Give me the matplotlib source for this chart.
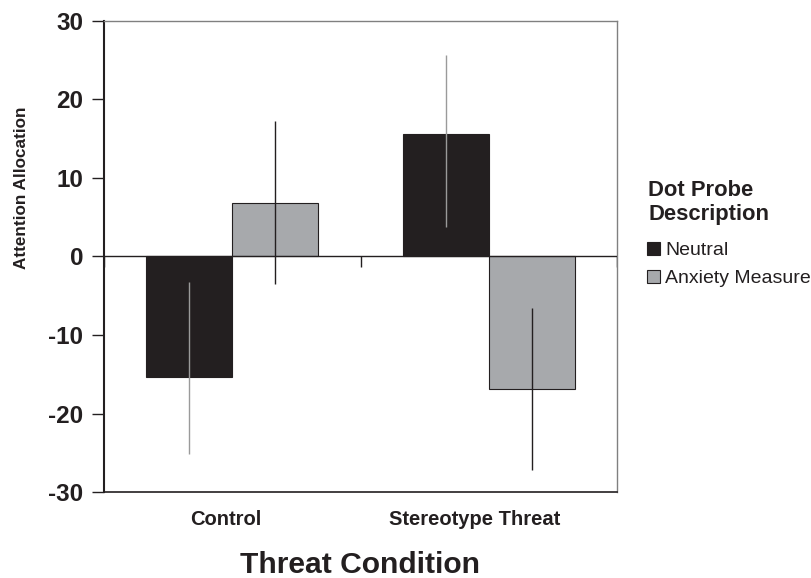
import matplotlib
matplotlib.use("Agg")
import matplotlib.pyplot as plt
import matplotlib.transforms as mtransforms
import numpy as np
from matplotlib.patches import Patch

categories = ["Control", "Stereotype Threat"]
series_names = ["Neutral", "Anxiety Measure"]
neutral_vals = [-15.3, 15.6]
anxiety_vals = [6.8, -16.8]
neutral_err_low = [-25.1, 3.8]
neutral_err_high = [-3.3, 25.6]
anxiety_err_low = [-3.5, -27.2]
anxiety_err_high = [17.2, -6.5]
yticks = [-30, -20, -10, 0, 10, 20, 30]

plt.rcParams['font.family'] = ['Liberation Sans', 'DejaVu Sans']

fig = plt.figure(figsize=(8.11, 5.78), dpi=100)
ax = fig.add_axes([0.1282, 0.1483, 0.6330, 0.8159])

x = np.arange(len(categories))
w = 0.335
dark = '#231f20'
gray = '#a7a9ac'

ax.bar(x - w/2, neutral_vals, w, color=dark, edgecolor=dark, linewidth=0.8, zorder=2)
ax.bar(x + w/2, anxiety_vals, w, color=gray, edgecolor=dark, linewidth=0.8, zorder=2)

nv = np.array(neutral_vals)
av = np.array(anxiety_vals)
ax.errorbar(x - w/2, nv, yerr=[nv - np.array(neutral_err_low), np.array(neutral_err_high) - nv],
            fmt='none', ecolor='#9a9a9a', elinewidth=1.0, capsize=0, zorder=3)
ax.errorbar(x + w/2, av, yerr=[av - np.array(anxiety_err_low), np.array(anxiety_err_high) - av],
            fmt='none', ecolor=dark, elinewidth=1.0, capsize=0, zorder=3)

ax.axhline(0, color=dark, linewidth=1.0, zorder=4)
bounds = np.arange(len(categories) + 1) - 0.5
ax.vlines(bounds, -1.4, 0, color=dark, linewidth=1.0, zorder=4)

ax.set_xlim(-0.5, len(categories) - 0.5)
ax.set_ylim(-30, 30)
ax.set_yticks(yticks)
ax.set_yticklabels([str(t) for t in yticks], fontsize=17.5, fontweight='bold', color=dark)
ax.set_xticks(x)
ax.set_xticklabels(categories, fontsize=14.5, fontweight='bold', color=dark)
ax.tick_params(axis='x', length=0, pad=13)
ax.tick_params(axis='y', direction='out', length=9, width=1.0, color=dark, pad=6)

# Shift category labels slightly left as in the reference
label_shifts = [-7, -14]
for lbl, dx in zip(ax.get_xticklabels(), label_shifts):
    lbl.set_transform(lbl.get_transform() +
                      mtransforms.ScaledTranslation(dx / 100, 0, fig.dpi_scale_trans))

ax.spines['left'].set_color(dark)
ax.spines['left'].set_linewidth(1.5)
ax.spines['bottom'].set_color(dark)
ax.spines['bottom'].set_linewidth(1.2)
ax.spines['top'].set_color('#808080')
ax.spines['top'].set_linewidth(1.0)
ax.spines['right'].set_color('#808080')
ax.spines['right'].set_linewidth(1.0)

fig.text(0.4437, 1 - 565/578, "Threat Condition", fontsize=21.6, fontweight='bold',
         color=dark, ha='center', va='center')
fig.text(22/811, 1 - 187.5/578, "Attention Allocation", fontsize=12.3, fontweight='bold',
         color=dark, rotation=90, ha='center', va='center')

fig.text(648/811, 1 - 180/578, "Dot Probe\nDescription", fontsize=15.8, fontweight='bold',
         color=dark, ha='left', va='top', linespacing=1.2)

handles = [Patch(facecolor=dark, edgecolor=dark, linewidth=0.8),
           Patch(facecolor=gray, edgecolor=dark, linewidth=0.8)]
leg = fig.legend(handles, series_names, loc='upper left',
                 bbox_to_anchor=(647/811, 1 - 242/578), frameon=False,
                 fontsize=14, handlelength=0.65, handleheight=0.65,
                 handletextpad=0.3, labelspacing=0.55, borderaxespad=0, borderpad=0)
for t in leg.get_texts():
    t.set_color(dark)

fig.savefig("out.png", dpi=100)
